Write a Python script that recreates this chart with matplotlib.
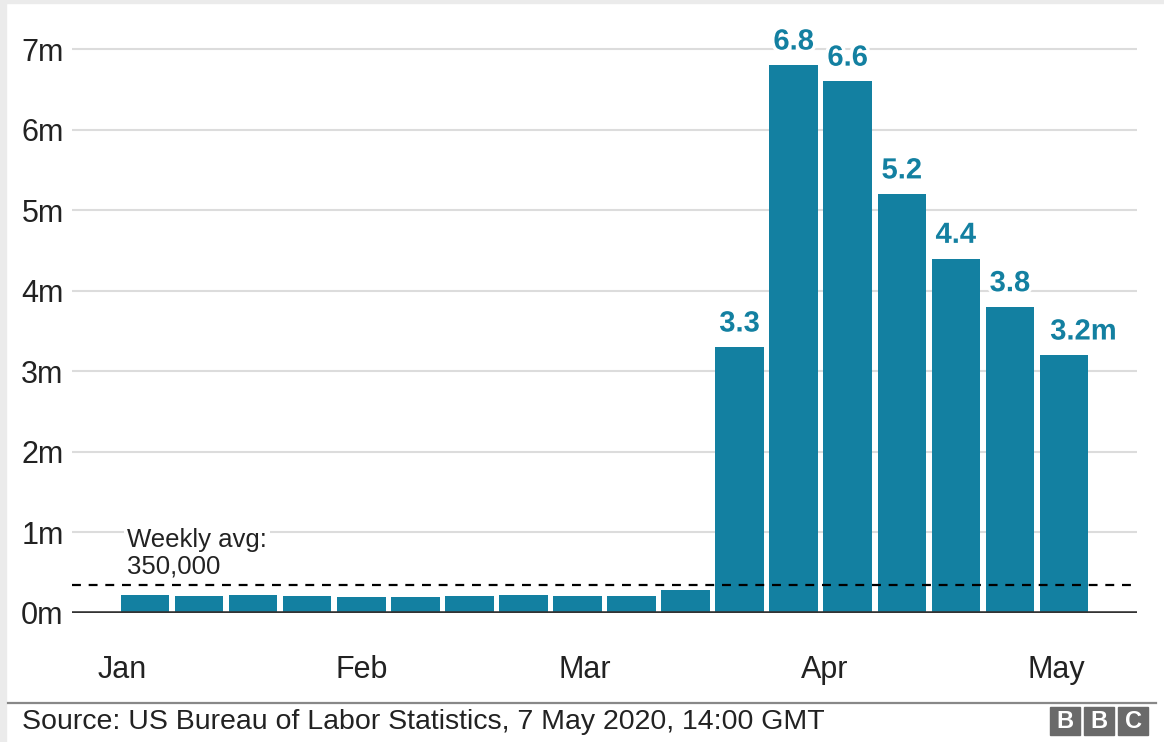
import numpy as np
import matplotlib.pyplot as plt
import matplotlib.patheffects as pe
from matplotlib.patches import Rectangle

plt.rcParams['font.family'] = ['Liberation Sans', 'DejaVu Sans']

# weekly initial jobless claims, millions
week_ending = ['2020-01-04', '2020-01-11', '2020-01-18', '2020-01-25',
               '2020-02-01', '2020-02-08', '2020-02-15', '2020-02-22',
               '2020-02-29', '2020-03-07', '2020-03-14', '2020-03-21',
               '2020-03-28', '2020-04-04', '2020-04-11', '2020-04-18',
               '2020-04-25', '2020-05-02']
claims_m = [0.22, 0.21, 0.22, 0.21, 0.20, 0.20, 0.21, 0.22, 0.21, 0.21,
            0.28, 3.3, 6.8, 6.6, 5.2, 4.4, 3.8, 3.2]
labelled_from = 11  # bars from here on get a value label

months = ['Jan', 'Feb', 'Mar', 'Apr', 'May']
month_starts = ['2020-01-01', '2020-02-01', '2020-03-01', '2020-04-01', '2020-05-01']

weekly_avg = 0.35
yticks = [0, 1, 2, 3, 4, 5, 6, 7]

teal = '#1380a1'

t0 = np.datetime64(week_ending[0], 'D')
x = (np.array(week_ending, dtype='datetime64[D]') - t0).astype(float) / 7
xm = (np.array(month_starts, dtype='datetime64[D]') - t0).astype(float) / 7

fig = plt.figure(figsize=(11.64, 7.42), dpi=100)
ax = fig.add_axes([72 / 1164, 129 / 742, 1065 / 1164, 588 / 742])

ax.bar(x, claims_m, width=0.9, color=teal, zorder=2)

halo = [pe.withStroke(linewidth=5, foreground='white')]
last = len(claims_m) - 1
for i in range(labelled_from, len(claims_m)):
    txt = f'{claims_m[i]:.1f}'
    dx = 0
    if i == last:
        # the unit goes on the last label, number kept over its bar
        txt += 'm'
        dx = 14
    ax.annotate(txt, (x[i], claims_m[i]), xytext=(dx, 7), textcoords='offset points',
                ha='center', va='bottom', fontsize=21, fontweight='bold',
                color=teal, path_effects=halo, zorder=4)

ax.axhline(weekly_avg, color='black', lw=1.6, ls=(0, (4, 3.5)), zorder=3)
ax.text(-0.33, 0.43, 'Weekly avg:\n350,000', fontsize=18.5, color='#222222',
        ha='left', va='bottom', linespacing=1.15, zorder=4,
        bbox=dict(facecolor='white', edgecolor='none', pad=2))

ax.axhline(0, color='#333333', lw=2.6, zorder=3)

ax.set_xlim(-1.35, 18.35)
ax.set_ylim(0, 7.3)
ax.set_yticks(yticks)
ax.set_yticklabels([f'{v}m' for v in yticks])
ax.set_xticks(xm)
ax.set_xticklabels(months)
ax.tick_params(axis='y', length=0, pad=6, labelsize=22, labelcolor='#222222')
ax.tick_params(axis='x', length=0, pad=30, labelsize=22, labelcolor='#222222')
ax.grid(axis='y', color='#dcdcdc', lw=1.5, zorder=0)
ax.set_axisbelow(True)
for s in ax.spines.values():
    s.set_visible(False)

# footer: rule, source and logo blocks
fig.add_artist(plt.Line2D([8 / 1164, 1156 / 1164], [39 / 742, 39 / 742],
                          color='#888888', lw=1.6))
fig.text(22 / 1164, 20 / 742, 'Source: US Bureau of Labor Statistics, 7 May 2020, 14:00 GMT',
         fontsize=20.5, color='#222222', va='center', ha='left')
for k, letter in enumerate('BBC'):
    x0 = (1050 + k * 34) / 1164
    fig.add_artist(Rectangle((x0, 7 / 742), 30 / 1164, 28 / 742,
                             transform=fig.transFigure, color='#6a6a6a'))
    fig.text(x0 + 15 / 1164, 21 / 742, letter, color='white', fontsize=17,
             fontweight='bold', ha='center', va='center')

# grey frame on the left and top edges
fig.add_artist(Rectangle((0, 0), 6 / 1164, 1, transform=fig.transFigure, color='#ebebeb'))
fig.add_artist(Rectangle((0, 1 - 3 / 742), 1, 3 / 742, transform=fig.transFigure, color='#ebebeb'))

fig.savefig('out.png', dpi=100)
